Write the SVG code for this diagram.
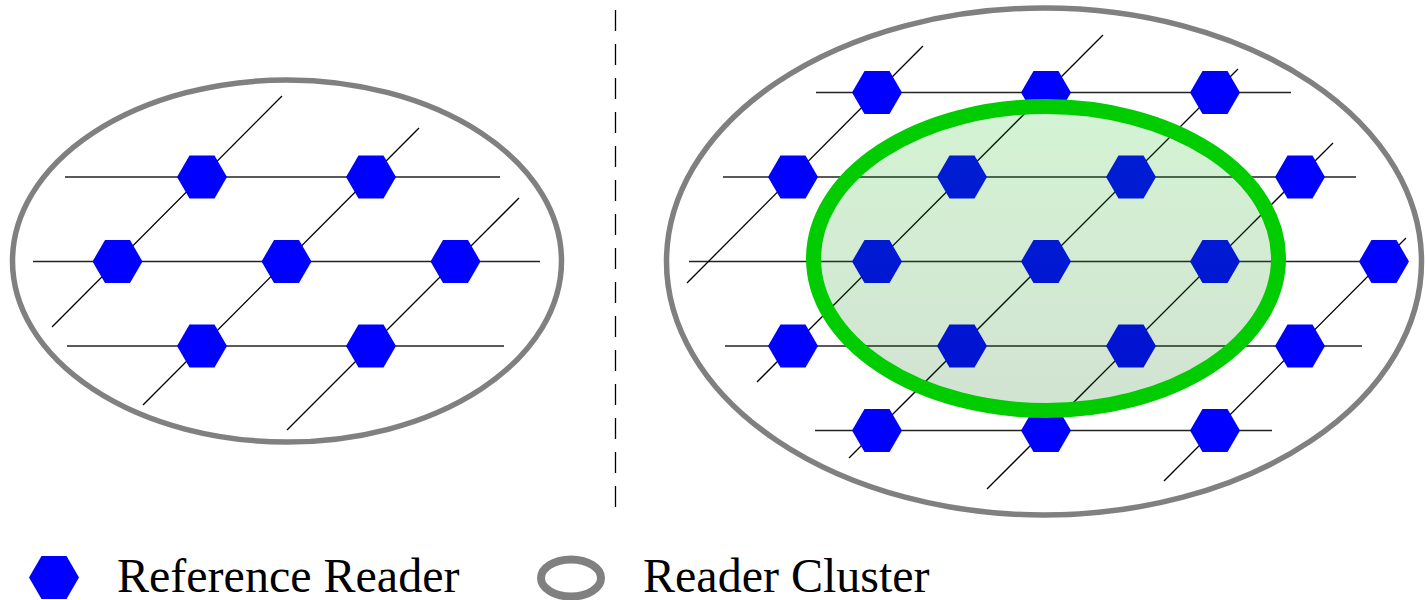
<svg xmlns="http://www.w3.org/2000/svg" xmlns:xlink="http://www.w3.org/1999/xlink" width="1425" height="600" viewBox="0 0 1425 600">
  <style>
    .cluster { fill: none; stroke: #808080; stroke-width: 5.5; }
    .row { stroke: #222222; stroke-width: 1.6; }
    .diag { stroke: #000000; stroke-width: 1.3; }
    .divider { stroke: #000000; stroke-width: 1.3; stroke-dasharray: 21 13; }
    .reader { fill: #0000ff; }
    .label { font-family: "Liberation Serif", "Times New Roman", serif; font-size: 48px; fill: #000000; }
  </style>
  <defs>
    <!-- flat-topped hexagon used for every reader -->
    <polygon id="hex" points="-25,0 -12.5,-21.5 12.5,-21.5 25,0 12.5,21.5 -12.5,21.5"/>
    <linearGradient id="zoneFill" x1="0" y1="0" x2="0" y2="1">
      <stop offset="0" stop-color="rgb(0,185,0)" stop-opacity="0.17"/>
      <stop offset="1" stop-color="rgb(0,97,0)" stop-opacity="0.18"/>
    </linearGradient>
  </defs>

  <rect x="0" y="0" width="1425" height="600" fill="#ffffff"/>

  <!-- left cluster -->
  <g id="cluster-left">
    <ellipse class="cluster" cx="287" cy="261" rx="274.5" ry="181"/>
  </g>

  <!-- right cluster -->
  <g id="cluster-right">
    <ellipse class="cluster" cx="1044" cy="261.5" rx="377.5" ry="253.5"/>
  </g>

  <!-- divider between the two layouts -->
  <line class="divider" x1="615.5" y1="10" x2="615.5" y2="513"/>

  <g id="connectors">
    <!-- left grid -->
    <line class="row" x1="65" y1="177" x2="500" y2="177"/>
    <line class="row" x1="33" y1="261.5" x2="540" y2="261.5"/>
    <line class="row" x1="67" y1="346" x2="504" y2="346"/>
    <line class="diag" x1="52" y1="327" x2="282" y2="96"/>
    <line class="diag" x1="143" y1="405" x2="419" y2="128"/>
    <line class="diag" x1="287" y1="430" x2="519" y2="198"/>
    <!-- right grid -->
    <line class="row" x1="816" y1="92.5" x2="1291" y2="92.5"/>
    <line class="row" x1="723" y1="177" x2="1356" y2="177"/>
    <line class="row" x1="689" y1="261.5" x2="1400" y2="261.5"/>
    <line class="row" x1="725" y1="346" x2="1362" y2="346"/>
    <line class="row" x1="815" y1="430.5" x2="1272" y2="430.5"/>
    <line class="diag" x1="687" y1="283" x2="923" y2="46"/>
    <line class="diag" x1="757" y1="382" x2="1103" y2="35"/>
    <line class="diag" x1="849" y1="458" x2="1238" y2="69"/>
    <line class="diag" x1="987" y1="489" x2="1333" y2="143"/>
    <line class="diag" x1="1164" y1="481" x2="1406" y2="238"/>
  </g>

  <!-- left readers -->
  <g id="reader-l1" class="reader"><use xlink:href="#hex" x="202" y="177"/></g>
  <g id="reader-l2" class="reader"><use xlink:href="#hex" x="371" y="177"/></g>
  <g id="reader-l3" class="reader"><use xlink:href="#hex" x="117.5" y="261.5"/></g>
  <g id="reader-l4" class="reader"><use xlink:href="#hex" x="286.5" y="261.5"/></g>
  <g id="reader-l5" class="reader"><use xlink:href="#hex" x="455.5" y="261.5"/></g>
  <g id="reader-l6" class="reader"><use xlink:href="#hex" x="202" y="346"/></g>
  <g id="reader-l7" class="reader"><use xlink:href="#hex" x="371" y="346"/></g>

  <!-- right readers -->
  <g id="reader-r1" class="reader"><use xlink:href="#hex" x="877" y="92.5"/></g>
  <g id="reader-r2" class="reader"><use xlink:href="#hex" x="1046" y="92.5"/></g>
  <g id="reader-r3" class="reader"><use xlink:href="#hex" x="1215" y="92.5"/></g>
  <g id="reader-r4" class="reader"><use xlink:href="#hex" x="793" y="177"/></g>
  <g id="reader-r5" class="reader"><use xlink:href="#hex" x="962" y="177"/></g>
  <g id="reader-r6" class="reader"><use xlink:href="#hex" x="1131" y="177"/></g>
  <g id="reader-r7" class="reader"><use xlink:href="#hex" x="1300" y="177"/></g>
  <g id="reader-r8" class="reader"><use xlink:href="#hex" x="877" y="261.5"/></g>
  <g id="reader-r9" class="reader"><use xlink:href="#hex" x="1046" y="261.5"/></g>
  <g id="reader-r10" class="reader"><use xlink:href="#hex" x="1215" y="261.5"/></g>
  <g id="reader-r11" class="reader"><use xlink:href="#hex" x="1384" y="261.5"/></g>
  <g id="reader-r12" class="reader"><use xlink:href="#hex" x="793" y="346"/></g>
  <g id="reader-r13" class="reader"><use xlink:href="#hex" x="962" y="346"/></g>
  <g id="reader-r14" class="reader"><use xlink:href="#hex" x="1131" y="346"/></g>
  <g id="reader-r15" class="reader"><use xlink:href="#hex" x="1300" y="346"/></g>
  <g id="reader-r16" class="reader"><use xlink:href="#hex" x="877" y="430.5"/></g>
  <g id="reader-r17" class="reader"><use xlink:href="#hex" x="1046" y="430.5"/></g>
  <g id="reader-r18" class="reader"><use xlink:href="#hex" x="1215" y="430.5"/></g>

  <!-- highlighted zone drawn over the right grid -->
  <g id="zone">
    <ellipse cx="1046" cy="258.5" rx="232.5" ry="152" fill="url(#zoneFill)" stroke="#00cc00" stroke-width="15"/>
  </g>

  <!-- legend -->
  <g id="legend-reader">
    <use xlink:href="#hex" class="reader" x="54" y="577.5"/>
    <text class="label" x="117" y="592">Reference Reader</text>
  </g>
  <g id="legend-cluster">
    <ellipse cx="571" cy="578" rx="30" ry="18.5" fill="none" stroke="#808080" stroke-width="8"/>
    <text class="label" x="643" y="592">Reader Cluster</text>
  </g>
</svg>
